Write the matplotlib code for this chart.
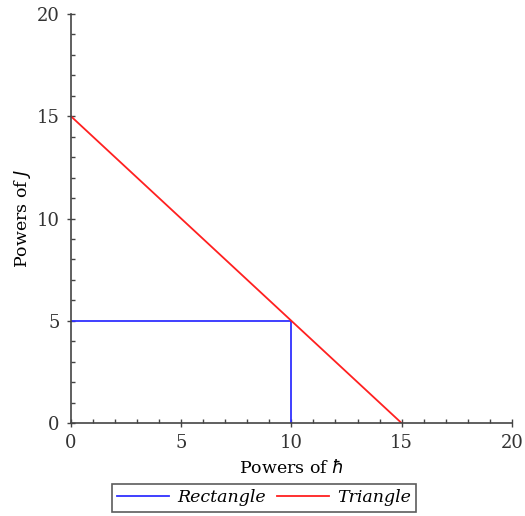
import matplotlib
matplotlib.use("Agg")
import matplotlib.pyplot as plt
from matplotlib.ticker import MultipleLocator

# Outline of the rectangle region and the triangle region
rect_x = [0, 10, 10]
rect_y = [5, 5, 0]
tri_x = [0, 15]
tri_y = [15, 0]

xticks = [0, 5, 10, 15, 20]
yticks = [0, 5, 10, 15, 20]

plt.rcParams["font.family"] = ["DejaVu Serif"]

fig = plt.figure(figsize=(5.25, 5.16), dpi=100)
ax = fig.add_axes([0.135, 0.180, 0.840, 0.793])

ax.plot(rect_x, rect_y, color="#3030ff", lw=1.3, label="Rectangle")
ax.plot(tri_x, tri_y, color="#ff2020", lw=1.3, label="Triangle")

ax.set_xlim(0, 20)
ax.set_ylim(0, 20)
ax.set_xticks(xticks)
ax.set_yticks(yticks)
ax.xaxis.set_minor_locator(MultipleLocator(1))
ax.yaxis.set_minor_locator(MultipleLocator(1))

for s in ["top", "right"]:
    ax.spines[s].set_visible(False)
for s in ["left", "bottom"]:
    ax.spines[s].set_color("#444444")
    ax.spines[s].set_linewidth(1.2)

ax.tick_params(which="major", direction="inout", length=6, width=1,
               color="#444444", labelsize=13, labelcolor="#333333", pad=5)
ax.tick_params(which="minor", direction="in", length=3, width=1,
               color="#444444")

ax.set_xlabel(r"Powers of $\hbar$", fontsize=12.5, labelpad=5)
ax.set_ylabel(r"Powers of $J$", fontsize=12.5, labelpad=3)

leg = fig.legend(loc="center", bbox_to_anchor=(264 / 525, 18 / 516), ncol=2,
                 frameon=True, fancybox=False, edgecolor="#333333",
                 prop={"style": "italic", "size": 12.5}, handlelength=3.0,
                 columnspacing=0.6, borderpad=0.3, handletextpad=0.5)
leg.get_frame().set_linewidth(1.2)

fig.savefig("out.png", dpi=100)
